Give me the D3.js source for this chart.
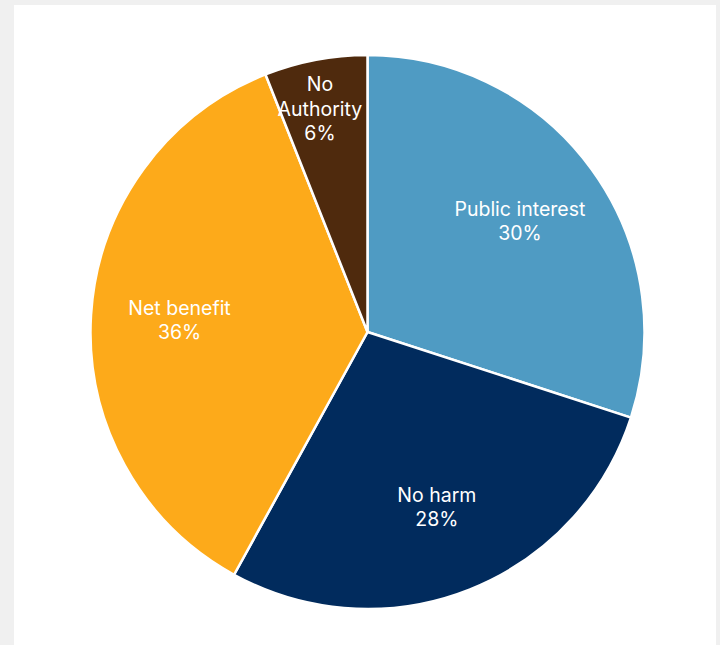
<!DOCTYPE html>
<html>
<head>
<meta charset="utf-8">
<script src="https://cdn.jsdelivr.net/npm/d3@7"></script>
<style>
  html, body { margin: 0; padding: 0; background: #f0f0f0; }
  svg { display: block; }
  .slice-label { font-family: Inter, "Noto Sans", sans-serif; font-size: 19.5px; fill: #ffffff; }
</style>
</head>
<body>
<div id="chart"></div>
<script>
// Share of decisions by legal test applied
const categories = ["Public interest", "No harm", "Net benefit", "No Authority"];
const shares = [30, 28, 36, 6];
const colors = ["#4f9bc3", "#012b5d", "#fdaa1a", "#4f2a0d"];

const width = 720, height = 645;
const svg = d3.select("#chart").append("svg")
  .attr("width", width)
  .attr("height", height);

// white chart panel
svg.append("rect")
  .attr("x", 14).attr("y", 5)
  .attr("width", 702).attr("height", 645)
  .attr("fill", "#ffffff");

const cx = 367.5, cy = 332, radius = 277;
const g = svg.append("g").attr("transform", `translate(${cx},${cy})`);

const data = categories.map((name, i) => ({ name, value: shares[i], color: colors[i] }));

const pie = d3.pie().value(d => d.value).sort(null);
const arc = d3.arc().innerRadius(0).outerRadius(radius);
const arcs = pie(data);

g.selectAll("path.slice")
  .data(arcs)
  .join("path")
  .attr("class", "slice")
  .attr("d", arc)
  .attr("fill", d => d.data.color)
  .attr("stroke", "#ffffff")
  .attr("stroke-width", 2.5)
  .attr("stroke-linejoin", "round");

// labels sit inside the slice; thin slices get pushed outward
const labelArc = d3.arc().innerRadius(radius * 0.68).outerRadius(radius * 0.68);
const outerLabelArc = d3.arc().innerRadius(radius * 0.82).outerRadius(radius * 0.82);
const lineH = 24.5;

arcs.forEach(d => {
  const small = d.data.value < 10;
  const [x, y] = (small ? outerLabelArc : labelArc).centroid(d);
  const words = small ? d.data.name.split(" ") : [d.data.name];
  const lines = words.concat([d.data.value + "%"]);
  const t = g.append("text")
    .attr("class", "slice-label")
    .attr("text-anchor", "middle");
  const top = y - (lines.length - 1) * lineH / 2;
  lines.forEach((ln, i) => {
    t.append("tspan")
      .attr("x", small ? x - 5 : x)
      .attr("y", top + i * lineH)
      .attr("dy", "0.35em")
      .text(ln);
  });
});
</script>
</body>
</html>
